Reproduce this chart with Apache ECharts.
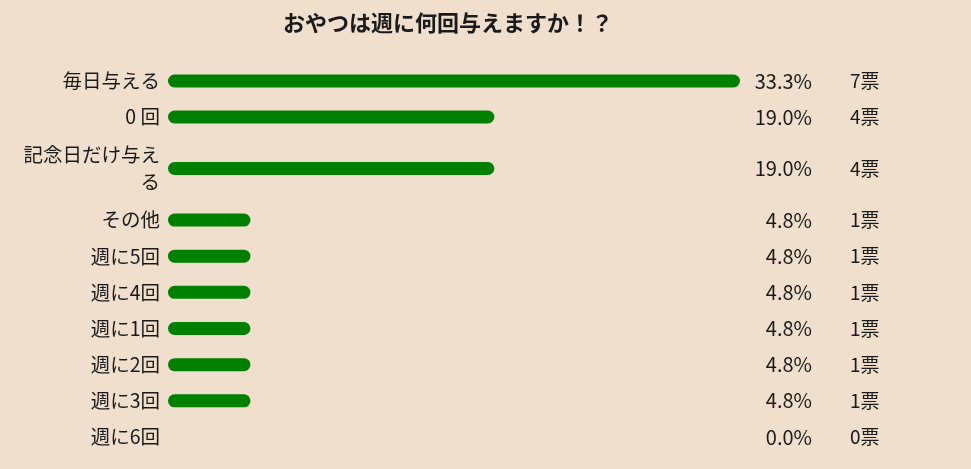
<!DOCTYPE html>
<html>
<head>
<meta charset="utf-8">
<script src="https://cdn.jsdelivr.net/npm/echarts@6/dist/echarts.min.js"></script>
<style>
  html, body { margin: 0; padding: 0; background: #f0dfcc; }
  #chart { width: 971px; height: 469px; }
</style>
</head>
<body>
<div id="chart"></div>
<script>
// 集計データ
const categories = ['毎日与える', '0 回', '記念日だけ与える', 'その他', '週に5回', '週に4回', '週に1回', '週に2回', '週に3回', '週に6回'];
const percents = [33.3, 19.0, 19.0, 4.8, 4.8, 4.8, 4.8, 4.8, 4.8, 0.0];
const votes = [7, 4, 4, 1, 1, 1, 1, 1, 1, 0];

const FONT = '"Noto Sans CJK JP", "Noto Sans", sans-serif';
const TEXT = '#1a1a1a';

// 2行に折り返す項目だけ行の高さが違うので、グリッドを3つに分ける
const bands = [
  { from: 0, to: 2, top: 63, height: 72 },
  { from: 2, to: 3, top: 135, height: 67 },
  { from: 3, to: 10, top: 202, height: 253 },
];

const grids = [], xAxes = [], yAxes = [], series = [];

bands.forEach((b, gi) => {
  const cats = categories.slice(b.from, b.to);
  const vals = percents.slice(b.from, b.to);
  const vts = votes.slice(b.from, b.to);

  grids.push({ left: 168, right: 231, top: b.top, height: b.height, containLabel: false });
  xAxes.push({ type: 'value', gridIndex: gi, min: 0, max: 33.3, show: false });

  const base = {
    type: 'category', gridIndex: gi, inverse: true,
    axisLine: { show: false }, axisTick: { show: false },
  };
  yAxes.push({
    ...base, data: cats,
    axisLabel: {
      color: TEXT, fontFamily: FONT, fontSize: 19.5, margin: 8,
      width: 145, overflow: 'break', lineHeight: 27,
    },
  });
  yAxes.push({
    ...base, data: vals.map(p => p.toFixed(1) + '%'), position: 'right',
    axisLabel: { color: TEXT, fontFamily: FONT, fontSize: 20, margin: 72, align: 'right' },
  });
  yAxes.push({
    ...base, data: vts.map(v => v + '票'), position: 'right',
    axisLabel: { color: TEXT, fontFamily: FONT, fontSize: 19, margin: 110, align: 'left' },
  });

  series.push({
    type: 'bar',
    xAxisIndex: gi,
    yAxisIndex: gi * 3,
    data: vals,
    barWidth: 13,
    itemStyle: { color: '#008000', borderRadius: 6.5 },
    silent: true,
  });
});

const chart = echarts.init(document.getElementById('chart'));

chart.setOption({
  backgroundColor: '#f0dfcc',
  animation: false,
  title: {
    text: 'おやつは週に何回与えますか！？',
    left: 278,
    top: 7,
    textStyle: { fontFamily: FONT, fontSize: 22, fontWeight: 'bold', color: TEXT },
  },
  grid: grids,
  xAxis: xAxes,
  yAxis: yAxes,
  series: series,
});
</script>
</body>
</html>
